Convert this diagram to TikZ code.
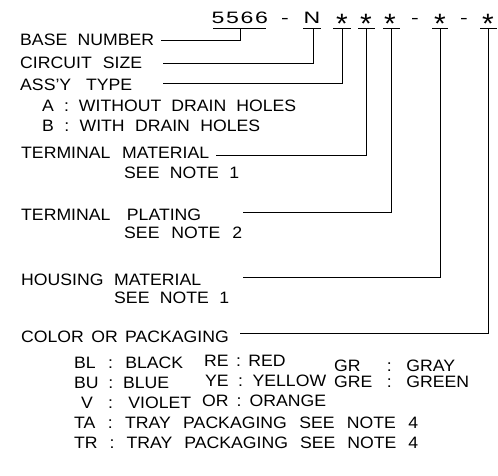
\documentclass[tikz,border=0pt]{standalone}
\usepackage{fontspec}
\usetikzlibrary{calc}
\setmainfont{Liberation Sans}[FakeStretch=1.07,WordSpace={2,10,1.5}]
\newfontfamily\widefont{Liberation Sans}[FakeStretch=1.4]
\newcommand{\fitw}[2]{\makebox[#1pt][s]{#2}}
\begin{document}
\begin{tikzpicture}[x=1pt,y=-1pt,
  lbl/.style={anchor=base west,inner sep=0pt,font=\fontsize{16.5}{18}\selectfont},
  chr/.style={anchor=base,inner sep=0pt,font=\widefont\fontsize{16.5}{18}\selectfont},
  ast/.style={anchor=base,inner sep=0pt,font=\fontsize{28}{30}\selectfont},
  ln/.style={line width=0.8pt,draw=black}]
\useasboundingbox (0,0) rectangle (498,475);
% code string
\node[chr] (d1) at (218,23) {5};
\node[chr] (d2) at (232.5,23) {5};
\node[chr] (d3) at (247,23) {6};
\node[chr] (d4) at (261.5,23) {6};
\node[chr] (h1) at (285,23) {-};
\node[chr] (cN) at (312,23) {N};
\node[ast] (a1) at (342,33) {*};
\node[ast] (a2) at (366,33) {*};
\node[ast] (a3) at (390,33) {*};
\node[chr] (h2) at (415,23) {-};
\node[ast] (a4) at (440,33) {*};
\node[chr] (h3) at (464,23) {-};
\node[ast] (a5) at (488,33) {*};
% bars under code
\coordinate (uB1) at (213,28); \coordinate (uB2) at (266,28);
\coordinate (uN1) at (303,28); \coordinate (uN2) at (321,28);
\coordinate (u11) at (333,28); \coordinate (u12) at (351,28);
\coordinate (u21) at (358,28); \coordinate (u22) at (375,28);
\coordinate (u31) at (383,28); \coordinate (u32) at (400,28);
\coordinate (u41) at (432,28); \coordinate (u42) at (448,28);
\coordinate (u51) at (480,28); \coordinate (u52) at (497,28);
\draw[ln] (uB1) -- (uB2);
\draw[ln] (uN1) -- (uN2);
\draw[ln] (u11) -- (u12);
\draw[ln] (u21) -- (u22);
\draw[ln] (u31) -- (u32);
\draw[ln] (u41) -- (u42);
\draw[ln] (u51) -- (u52);
% labels
\node[lbl] (bn) at (20,45) {\fitw{134}{BASE NUMBER}};
\node[lbl] (cs) at (20,68) {\fitw{122}{CIRCUIT SIZE}};
\node[lbl] (at) at (20,90) {\fitw{112}{ASS'Y TYPE}};
\node[lbl] (aA) at (42,111) {\fitw{254}{A : WITHOUT DRAIN HOLES}};
\node[lbl] (aB) at (42,131) {\fitw{218}{B : WITH DRAIN HOLES}};
\node[lbl] (tm) at (21,158) {\fitw{188}{TERMINAL MATERIAL}};
\node[lbl] (tmn) at (124,178) {\fitw{115}{SEE NOTE 1}};
\node[lbl] (tp) at (21,220) {\fitw{180}{TERMINAL PLATING}};
\node[lbl] (tpn) at (124,238) {\fitw{118}{SEE NOTE 2}};
\node[lbl] (hm) at (21,285) {\fitw{180}{HOUSING MATERIAL}};
\node[lbl] (hmn) at (114,303) {\fitw{115}{SEE NOTE 1}};
\node[lbl] (cp) at (21,342) {\fitw{206}{COLOR OR PACKAGING}};
\node[lbl] (c1) at (74,368) {\fitw{109}{BL : BLACK}};
\node[lbl] (c2) at (204,366) {\fitw{67}{RE : RED}};
\node[lbl] (c3) at (334,371) {\makebox[52.8pt][l]{GR}:\hspace{14.5pt}GRAY};
\node[lbl] (c4) at (74,388) {\fitw{95}{BU : BLUE}};
\node[lbl] (c5) at (205,386) {\fitw{121}{YE : YELLOW}};
\node[lbl] (c6) at (334,387) {\fitw{135}{GRE : GREEN}};
\node[lbl] (c7) at (81,408) {\fitw{110}{V : VIOLET}};
\node[lbl] (c8) at (202,406) {\fitw{124}{OR : ORANGE}};
\node[lbl] (c9) at (74,428) {\fitw{344}{TA : TRAY PACKAGING SEE NOTE 4}};
\node[lbl] (c10) at (74,448) {\fitw{344}{TR : TRAY PACKAGING SEE NOTE 4}};
% leader start points
\coordinate (sB) at (161,40);
\coordinate (sC) at (163,63);
\coordinate (sA) at (163,83);
\coordinate (sT) at (216,155);
\coordinate (sP) at (243,212);
\coordinate (sH) at (243,277);
\coordinate (sK) at (240,333);
% leaders
\draw[ln] (sB) -| ($(uB1)!0.51!(uB2)$);
\draw[ln] (sC) -| ($(uN1)!0.55!(uN2)$);
\draw[ln] (sA) -| ($(u11)!0.5!(u12)$);
\draw[ln] (sT) -| ($(u21)!0.5!(u22)$);
\draw[ln] (sP) -| ($(u31)!0.5!(u32)$);
\draw[ln] (sH) -| ($(u41)!0.5!(u42)$);
\draw[ln] (sK) -| ($(u51)!0.5!(u52)$);
\end{tikzpicture}
\end{document}
